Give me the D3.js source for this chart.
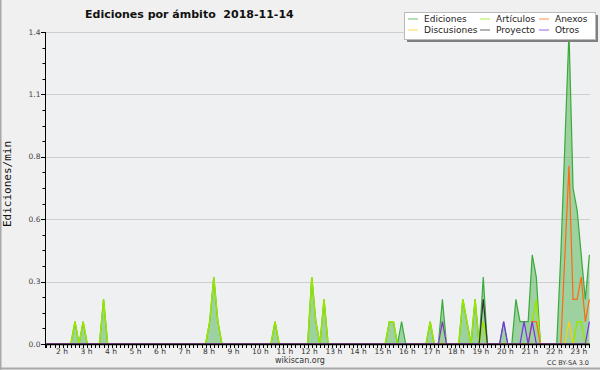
<!DOCTYPE html>
<html>
<head>
<meta charset="utf-8">
<script src="https://cdn.jsdelivr.net/npm/d3@7"></script>
<style>
    body { margin: 0; background: #f0f0f0; }
    svg { display: block; font-family: "DejaVu Sans", sans-serif; }
</style>
</head>
<body>
<div id="chart-div"></div>
<script>
"use strict"

const width = 600;
const height = 370;
const plotLeft = 45;
const plotRight = 590;
const plotTop = 32;
const plotBottom = 344;

const chartTitle = "Ediciones por ámbito  2018-11-14";
const yLabel = "Ediciones/min";

// 10 minute buckets, from 01:40 to 23:50
const startTime = "01:40";
const endTime = "23:50";
const stepMinutes = 10;

const hourTicks = [2, 3, 4, 5, 6, 7, 8, 9, 10, 11, 12, 13, 14, 15, 16, 17, 18, 19, 20, 21, 22, 23];
const yTicks = [0, 0.28, 0.56, 0.84, 1.12, 1.4];

// only the non zero buckets, every other bucket is 0
const ediciones = [
    ["02:50", 0.1], ["03:10", 0.1], ["04:00", 0.2],
    ["08:20", 0.1], ["08:30", 0.3], ["08:40", 0.1],
    ["11:00", 0.1],
    ["12:30", 0.3], ["12:40", 0.1], ["13:00", 0.2],
    ["15:40", 0.1], ["15:50", 0.1], ["16:10", 0.1],
    ["17:20", 0.1], ["17:50", 0.2],
    ["18:40", 0.2], ["18:50", 0.1], ["19:10", 0.2], ["19:30", 0.3],
    ["20:20", 0.1], ["20:50", 0.2], ["21:00", 0.1], ["21:10", 0.1], ["21:20", 0.1],
    ["21:30", 0.4], ["21:40", 0.3],
    ["22:40", 0.4], ["22:50", 0.9], ["23:00", 1.4], ["23:10", 0.7],
    ["23:20", 0.6], ["23:30", 0.4], ["23:40", 0.2], ["23:50", 0.4]
];
const articulos = [
    ["02:50", 0.1], ["03:10", 0.1], ["04:00", 0.2],
    ["08:20", 0.1], ["08:30", 0.3], ["08:40", 0.1],
    ["11:00", 0.1],
    ["12:30", 0.3], ["12:40", 0.1], ["13:00", 0.2],
    ["15:40", 0.1], ["15:50", 0.1],
    ["17:20", 0.1], ["17:50", 0.1],
    ["18:40", 0.2], ["18:50", 0.1], ["19:10", 0.2], ["19:30", 0.1],
    ["21:30", 0.1], ["21:40", 0.2],
    ["23:20", 0.1], ["23:30", 0.1]
];
const anexos = [
    ["21:30", 0.1], ["21:40", 0.1],
    ["22:50", 0.4], ["23:00", 0.8], ["23:10", 0.2], ["23:20", 0.2],
    ["23:30", 0.3], ["23:40", 0.1], ["23:50", 0.2]
];
const discusiones = [["23:00", 0.1]];
const proyecto = [["19:30", 0.2]];
const otros = [["17:50", 0.1], ["20:20", 0.1], ["21:10", 0.1], ["21:30", 0.1], ["23:50", 0.1]];

const seriesList = [
    { name: "Ediciones", data: ediciones, color: "#3aaa3a" },
    { name: "Discusiones", data: discusiones, color: "#ffcc11" },
    { name: "Artículos", data: articulos, color: "#99e600" },
    { name: "Proyecto", data: proyecto, color: "#333333" },
    { name: "Anexos", data: anexos, color: "#ff6a10" },
    { name: "Otros", data: otros, color: "#7a2ff0" }
];

const svg = d3.select("#chart-div")
    .append("svg")
        .attr("width", width)
        .attr("height", height);

let xScale;
let yScale;


function ToMinutes(text)
{
    const parts = text.split(":");
    return (+parts[0]) * 60 + (+parts[1]);
}


function ExpandSeries(sparse)
{
    const lookup = new Map(sparse.map(d => [ToMinutes(d[0]), d[1]]));
    const points = [];
    for(let m = ToMinutes(startTime); m <= ToMinutes(endTime); m += stepMinutes)
    {
        points.push({ t: m, v: lookup.has(m) ? lookup.get(m) : 0 });
    }
    return points;
}


function CreateScales()
{
    xScale = d3.scaleLinear()
        .domain([ToMinutes(startTime), ToMinutes(endTime)])
        .range([46.4, 589.4]);

    yScale = d3.scaleLinear()
        .domain([0, 1.4])
        .range([plotBottom, plotTop]);
}


function DrawFrame()
{
    svg.append("rect")
        .attr("width", width)
        .attr("height", height)
        .attr("fill", "#f0f0f0");

    svg.append("rect")
        .attr("x", plotLeft)
        .attr("y", plotTop)
        .attr("width", plotRight - plotLeft)
        .attr("height", plotBottom - plotTop)
        .attr("fill", "#eef0f2");

    svg.append("rect")
        .attr("x", 0).attr("y", 0)
        .attr("width", 1.5).attr("height", height)
        .attr("fill", "#a8a8a8");

    svg.append("rect")
        .attr("x", 0).attr("y", 367.5)
        .attr("width", width).attr("height", 2)
        .attr("fill", "#a8a8a8");

    svg.append("text")
        .attr("x", 85)
        .attr("y", 17.5)
        .attr("font-size", "11px")
        .attr("font-weight", "bold")
        .attr("fill", "#111")
        .style("white-space", "pre")
        .text(chartTitle);

    svg.append("text")
        .attr("transform", "translate(11,184) rotate(-90)")
        .attr("text-anchor", "middle")
        .attr("font-family", "DejaVu Sans Mono, monospace")
        .attr("font-size", "11px")
        .attr("fill", "#111")
        .text(yLabel);

    svg.append("text")
        .attr("x", 300)
        .attr("y", 363)
        .attr("text-anchor", "middle")
        .attr("font-size", "8px")
        .attr("fill", "#333")
        .text("wikiscan.org");

    svg.append("text")
        .attr("x", 589)
        .attr("y", 364.5)
        .attr("text-anchor", "end")
        .attr("font-size", "6.5px")
        .attr("fill", "#333")
        .text("CC BY-SA 3.0");
}


function DrawGrid()
{
    svg.selectAll(".grid-line")
        .data(yTicks.slice(1))
        .enter()
        .append("line")
            .attr("class", "grid-line")
            .attr("x1", plotLeft)
            .attr("x2", plotRight)
            .attr("y1", d => Math.round(yScale(d)) + 0.5)
            .attr("y2", d => Math.round(yScale(d)) + 0.5)
            .attr("stroke", "#cfcfcf")
            .attr("stroke-width", 1);
}


function DrawSeries()
{
    const total = ExpandSeries(ediciones);

    const area = d3.area()
        .x(d => xScale(d.t))
        .y0(yScale(0))
        .y1(d => yScale(d.v));

    svg.append("path")
        .datum(total)
        .attr("d", area)
        .attr("fill", "rgba(60,170,60,0.45)");

    const line = d3.line()
        .x(d => xScale(d.t))
        .y(d => yScale(d.v));

    const drawOrder = ["Ediciones", "Artículos", "Discusiones", "Anexos", "Proyecto", "Otros"];
    drawOrder.forEach(name => {
        const serie = seriesList.find(s => s.name == name);
        svg.append("path")
            .datum(ExpandSeries(serie.data))
            .attr("d", line)
            .attr("fill", "none")
            .attr("stroke", serie.color)
            .attr("stroke-width", name == "Artículos" ? 1.5 : 1.2)
            .attr("stroke-linejoin", "miter");
    });
}


function DrawAxes()
{
    // y axis
    svg.append("line")
        .attr("x1", plotLeft + 0.5).attr("x2", plotLeft + 0.5)
        .attr("y1", plotTop).attr("y2", plotBottom + 4)
        .attr("stroke", "#000");

    const minorTicks = d3.range(0, 1.4001, 0.07);
    svg.selectAll(".y-minor")
        .data(minorTicks)
        .enter()
        .append("line")
            .attr("class", "y-minor")
            .attr("x1", plotLeft - 2.5)
            .attr("x2", plotLeft)
            .attr("y1", d => Math.round(yScale(d)) + 0.5)
            .attr("y2", d => Math.round(yScale(d)) + 0.5)
            .attr("stroke", "#000");

    svg.selectAll(".y-major")
        .data(yTicks)
        .enter()
        .append("line")
            .attr("class", "y-major")
            .attr("x1", plotLeft - 4)
            .attr("x2", plotLeft)
            .attr("y1", d => Math.round(yScale(d)) + 0.5)
            .attr("y2", d => Math.round(yScale(d)) + 0.5)
            .attr("stroke", "#000");

    svg.selectAll(".y-label")
        .data(yTicks)
        .enter()
        .append("text")
            .attr("class", "y-label")
            .attr("x", plotLeft - 4.5)
            .attr("y", d => yScale(d) + 2.5)
            .attr("text-anchor", "end")
            .attr("font-size", "7.5px")
            .attr("fill", "#444")
            .text(d => d3.format(".1f")(d));

    // x axis
    svg.append("line")
        .attr("x1", plotLeft).attr("x2", plotRight)
        .attr("y1", plotBottom + 0.5).attr("y2", plotBottom + 0.5)
        .attr("stroke", "#000")
        .attr("stroke-width", 1.5);

    const xTicks = d3.range(ToMinutes(startTime), ToMinutes(endTime) + 1, stepMinutes);
    svg.selectAll(".x-tick")
        .data(xTicks)
        .enter()
        .append("line")
            .attr("class", "x-tick")
            .attr("x1", d => Math.round(xScale(d)) + 0.5)
            .attr("x2", d => Math.round(xScale(d)) + 0.5)
            .attr("y1", plotBottom)
            .attr("y2", plotBottom + 4)
            .attr("stroke", "#000");

    svg.selectAll(".x-label")
        .data(hourTicks)
        .enter()
        .append("text")
            .attr("class", "x-label")
            .attr("x", d => xScale(d * 60) + 1.5)
            .attr("y", 353.5)
            .attr("font-size", "7.5px")
            .attr("fill", "#333")
            .style("white-space", "pre")
            .text(d => d + " h");
}


function DrawLegend()
{
    const legendX = 404;
    const legendY = 12;
    const legendW = 191;
    const legendH = 27;

    svg.append("rect")
        .attr("x", legendX + 3)
        .attr("y", legendY + 3)
        .attr("width", legendW)
        .attr("height", legendH)
        .attr("fill", "#808080");

    svg.append("rect")
        .attr("x", legendX + 0.5)
        .attr("y", legendY + 0.5)
        .attr("width", legendW)
        .attr("height", legendH)
        .attr("fill", "#fff")
        .attr("stroke", "#bbb");

    const columns = [0, 72, 131];
    const rows = [18.5, 29.5];

    const legendItems = svg.selectAll(".legend-item")
        .data(seriesList)
        .enter()
        .append("g")
            .attr("class", "legend-item")
            .attr("transform", (_, i) => `translate(${legendX + 4 + columns[Math.floor(i / 2)]},${legendY + rows[i % 2] - 12})`);

    legendItems.append("line")
        .attr("x1", 0)
        .attr("x2", 10)
        .attr("y1", 0.5)
        .attr("y2", 0.5)
        .attr("stroke", d => d.color)
        .attr("stroke-opacity", 0.75);

    legendItems.append("text")
        .attr("x", 16)
        .attr("y", 3.5)
        .attr("font-size", "9px")
        .attr("fill", "#222")
        .text(d => d.name);
}


CreateScales();
DrawFrame();
DrawGrid();
DrawSeries();
DrawAxes();
DrawLegend();
</script>
</body>
</html>
